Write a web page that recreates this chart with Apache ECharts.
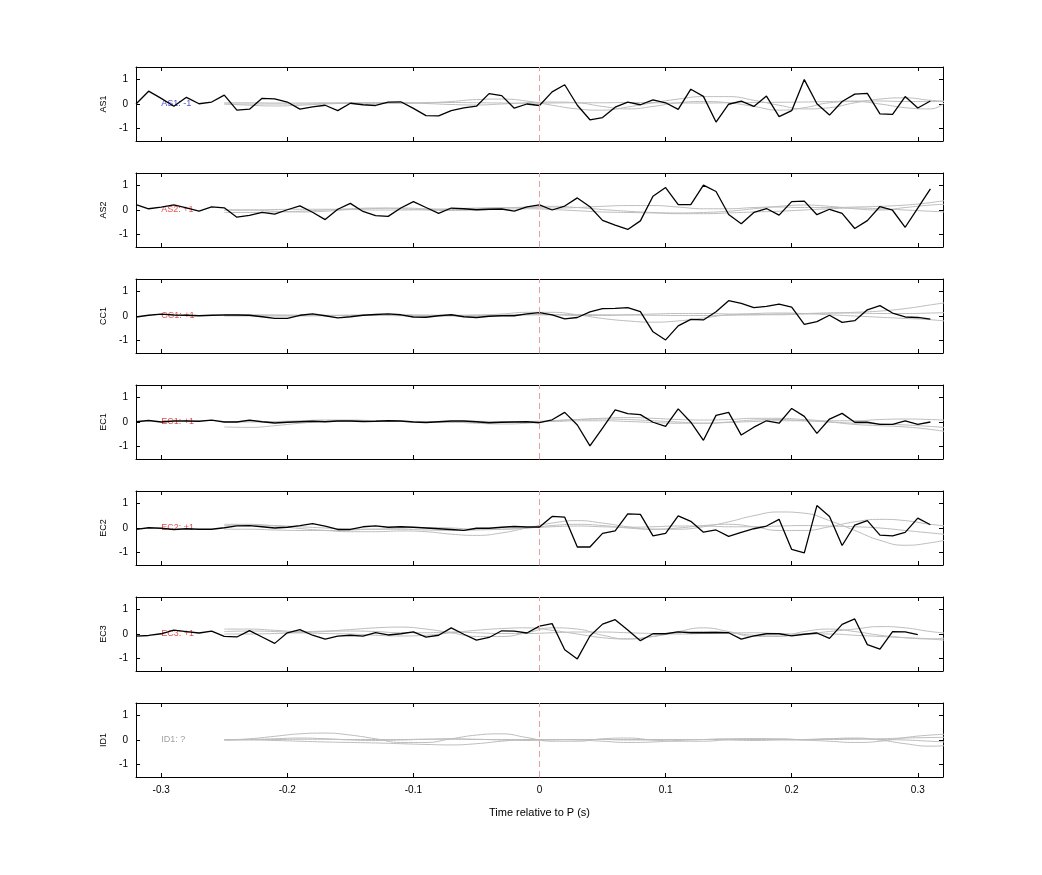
<!DOCTYPE html>
<html>
<head>
<meta charset="utf-8">
<script src="https://cdn.jsdelivr.net/npm/echarts@6/dist/echarts.min.js"></script>
<style>html,body{margin:0;background:#fff}#chart{width:1042px;height:875px}</style>
</head>
<body>
<div id="chart"></div>
<script>
const stations = ['AS1', 'AS2', 'CC1', 'EC1', 'EC2', 'EC3', 'ID1']
const polarity = ['AS1: -1', 'AS2: +1', 'CC1: +1', 'EC1: +1', 'EC2: +1', 'EC3: +1', 'ID1: ?']
const labelColors = ['#2222cc', '#e02020', '#e02020', '#e02020', '#e02020', '#e02020', '#888888']
const xTicks = [-0.3, -0.2, -0.1, 0, 0.1, 0.2, 0.3]
const yTicks = [-1, 0, 1]

// black traces, every 0.01 s from -0.32
const as1 = [0,0.52,0.23,-0.09,0.27,0.01,0.08,0.36,-0.25,-0.21,0.23,0.21,0.08,-0.21,-0.12,-0.05,-0.27,0.03,-0.03,-0.06,0.08,0.09,-0.18,-0.47,-0.48,-0.27,-0.16,-0.09,0.42,0.34,-0.17,0,-0.06,0.49,0.78,-0.05,-0.64,-0.55,-0.13,0.08,-0.03,0.17,0.05,-0.22,0.6,0.31,-0.73,-0.01,0.12,-0.1,0.32,-0.51,-0.27,0.99,0.01,-0.45,0.1,0.4,0.43,-0.4,-0.42,0.3,-0.16,0.12]
const as2 = [0.22,0.05,0.12,0.21,0.09,-0.05,0.13,0.09,-0.29,-0.22,-0.1,-0.17,0.01,0.17,-0.09,-0.39,0.03,0.27,-0.06,-0.23,-0.26,0.08,0.34,0.1,-0.14,0.08,0.05,0.01,0.03,0.04,-0.05,0.13,0.21,0,0.16,0.49,0.13,-0.42,-0.61,-0.79,-0.44,0.56,0.91,0.22,0.22,1.01,0.75,-0.18,-0.56,-0.1,0.06,-0.21,0.34,0.36,-0.19,0.03,-0.14,-0.75,-0.43,0.14,-0.01,-0.7,0.08,0.86]
const cc1 = [-0.04,0.03,0.08,0.04,0.03,0.01,0.03,0.04,0.04,0.03,-0.03,-0.1,-0.1,0.03,0.09,0.01,-0.08,-0.03,0.03,0.06,0.09,0.05,-0.04,-0.05,0.01,0.05,-0.03,-0.06,-0.01,0.01,0.01,0.09,0.14,0.05,-0.12,-0.06,0.17,0.3,0.31,0.34,0.18,-0.64,-0.97,-0.4,-0.14,-0.16,0.17,0.62,0.51,0.34,0.39,0.48,0.36,-0.34,-0.23,0.03,-0.26,-0.19,0.25,0.42,0.12,-0.04,-0.06,-0.13]
const ec1 = [0.01,0.06,0,0.04,0.04,0.03,0.08,0,0,0.08,0.01,-0.04,-0.01,0.01,0.03,0.01,0.04,0.04,0.02,0.03,0.05,0.04,0,-0.02,0.01,0.04,0.04,0.01,-0.03,-0.01,0,0.01,-0.03,0.09,0.39,-0.12,-0.97,-0.25,0.49,0.34,0.3,-0.01,-0.18,0.53,-0.01,-0.74,0.27,0.39,-0.53,-0.21,0.05,-0.05,0.55,0.23,-0.46,0.12,0.35,-0.01,-0.01,-0.1,-0.1,0.05,-0.1,0]
const ec2 = [-0.06,0.01,-0.01,-0.06,-0.03,-0.05,-0.05,0.01,0.09,0.1,0.05,0,0.03,0.1,0.18,0.08,-0.06,-0.06,0.05,0.09,0.03,0.05,0.03,0,-0.03,-0.06,-0.1,-0.01,-0.01,0.03,0.06,0.04,0.04,0.47,0.44,-0.77,-0.77,-0.22,-0.12,0.57,0.55,-0.32,-0.22,0.49,0.27,-0.17,-0.08,-0.34,-0.18,-0.03,0.08,0.35,-0.87,-1.01,0.91,0.47,-0.71,0.12,0.3,-0.29,-0.32,-0.18,0.4,0.13]
const ec3 = [-0.09,-0.06,0.01,0.16,0.1,0.04,0.12,-0.1,-0.12,0.14,-0.12,-0.38,0.05,0.18,-0.05,-0.21,-0.09,-0.05,-0.09,0.06,-0.04,0.01,0.09,-0.13,-0.05,0.25,-0.01,-0.25,-0.14,0.13,0.12,0.04,0.32,0.42,-0.64,-1.01,-0.08,0.4,0.58,0.16,-0.27,0.01,0.01,0.09,0.05,0.05,0.06,0.05,-0.21,-0.08,0.01,0.01,-0.08,-0.01,0.04,-0.18,0.39,0.61,-0.43,-0.61,0.1,0.09,-0.03]
const blackTraces = [as1, as2, cc1, ec1, ec2, ec3, null]

// gray synthetic traces, every 0.02 s from -0.25
const grayTimes = [-0.25,-0.23,-0.21,-0.19,-0.17,-0.15,-0.13,-0.11,-0.09,-0.07,-0.05,-0.03,-0.01,0.01,0.03,0.05,0.07,0.09,0.11,0.13,0.15,0.17,0.19,0.21,0.23,0.25,0.27,0.29,0.31,0.33]
const grayAS1 = [
  [0,0,0,0,0.02,0.03,0.03,0.03,0.05,0.1,0.18,0.2,0.12,-0.05,-0.2,-0.25,-0.12,0.05,0.2,0.3,0.3,0.15,-0.05,-0.2,-0.15,0.05,0.2,0.25,0.15,0.1],
  [0,-0.05,-0.08,-0.05,0,0.03,0.05,0.05,0.02,-0.02,-0.04,0,0.05,0.08,0.05,-0.1,-0.2,-0.1,0.05,0.1,0.05,-0.1,-0.25,-0.15,0.05,0.1,0,-0.15,-0.2,0.6],
  [0.05,0.05,0.04,0.04,0.05,0.05,0.05,0.04,0.05,0.06,0.05,0.04,0.03,0.04,0.05,0.05,0.06,0.05,0.04,0.04,0.05,0.06,0.07,0.08,0.1,0.12,0.12,0.1,0.1,0.1]
]
const grayAS2 = [
  [0,0,-0.05,-0.08,-0.05,0.02,0.06,0.08,0.05,0.02,0.05,0.08,0.12,0.15,0.1,0.02,-0.05,-0.1,-0.12,-0.1,-0.05,0.05,0.15,0.2,0.15,0.05,0,0.1,0.2,0.25],
  [-0.1,-0.1,-0.08,-0.05,0,0.05,0.08,0.05,0,-0.02,0,0.03,0.05,0.02,-0.03,-0.08,-0.1,-0.12,-0.15,-0.15,-0.12,-0.08,-0.05,0,0.05,0.08,0.05,0,-0.05,-0.1],
  [0,0,0.02,0.03,0.03,0.02,0,0,0.02,0.05,0.08,0.1,0.1,0.08,0.1,0.15,0.18,0.18,0.12,0.05,0.05,0.1,0.12,0.1,0.1,0.12,0.15,0.2,0.3,0.45]
]
const grayCC1 = [
  [0.05,0.05,0.04,0.03,0.03,0.04,0.05,0.05,0.04,0.03,0.04,0.08,0.15,0.15,0.05,-0.1,-0.2,-0.25,-0.2,-0.08,0.05,0.1,0.12,0.1,0.05,0,-0.05,-0.1,-0.15,-0.25],
  [0,0,0,0,0.01,0.02,0.02,0.01,0,0,0.01,0.02,0.05,0.05,0.02,0.02,0.05,0.08,0.1,0.1,0.08,0.05,0.05,0.08,0.12,0.15,0.2,0.3,0.45,0.6],
  [0.02,0.02,0.03,0.03,0.02,0.02,0.03,0.03,0.02,0.02,0.03,0.04,0.05,0.05,0.06,0.05,0.04,0.03,0.02,0.02,0.03,0.05,0.08,0.1,0.12,0.12,0.1,0.1,0.12,0.15]
]
const grayEC1 = [
  [-0.2,-0.22,-0.15,-0.05,0.02,0.05,0.05,0.03,0.02,0,-0.05,-0.08,-0.05,0.05,0.1,0.12,0.1,0.05,0,-0.05,0,0.08,0.1,0.05,0,-0.1,-0.15,-0.2,-0.3,-0.45],
  [0,0,0.02,0.05,0.08,0.08,0.05,0.02,0,-0.02,-0.02,0,0.02,0.05,0.1,0.15,0.18,0.15,0.1,0.08,0.1,0.15,0.15,0.1,0.05,0.05,0.1,0.12,0.1,0.05],
  [0.02,0.02,0.02,0.02,0.03,0.03,0.02,0.02,0.02,0.02,0.03,0.02,0.02,0.02,0.05,0.05,0.02,-0.02,-0.05,-0.05,-0.02,0.02,0.05,0.05,0,-0.05,-0.08,-0.12,-0.18,-0.25]
]
const grayEC2 = [
  [0.15,0.15,0.08,-0.02,-0.1,-0.15,-0.15,-0.12,-0.15,-0.25,-0.3,-0.2,0,0.2,0.3,0.2,0.05,-0.05,-0.05,0.05,0.25,0.5,0.65,0.6,0.3,-0.1,-0.5,-0.7,-0.6,-0.4],
  [0.1,0.12,0.1,0.05,0,-0.05,-0.05,0,0.02,0,-0.05,-0.05,0,0.1,0.15,0.1,0,-0.05,0,0.1,0.15,0.05,-0.1,-0.1,0.05,0.25,0.35,0.3,0.15,0.05],
  [-0.05,-0.05,-0.08,-0.1,-0.1,-0.08,-0.05,-0.05,-0.08,-0.1,-0.08,-0.05,0,0.05,0.08,0.05,0.03,0.05,0.08,0.08,0.05,0.05,0.08,0.1,0.08,0.05,0,-0.1,-0.2,-0.3]
]
const grayEC3 = [
  [0.2,0.2,0.15,0.1,0.12,0.18,0.25,0.28,0.2,0.05,-0.1,-0.1,0.05,0.25,0.2,-0.05,-0.2,-0.1,0.1,0.25,0.1,-0.1,-0.1,0.1,0.2,0.1,-0.05,-0.15,-0.2,-0.1],
  [0.1,0.12,0.1,0.05,0.02,0,-0.05,-0.08,-0.05,0.05,0.15,0.22,0.25,0.15,0,-0.15,-0.2,-0.1,0.05,0.1,0.05,-0.05,-0.08,0,0.1,0.2,0.3,0.25,0.1,0],
  [0,0,0.02,0.05,0.1,0.12,0.1,0.05,0.05,0.08,0.05,0.02,0.02,0.05,0.08,0.08,0.05,0.02,0,0.02,0.05,0.05,0.02,0,0,-0.05,-0.1,-0.15,-0.2,-0.3]
]
const grayID1 = [
  [0,0.05,0.15,0.25,0.28,0.2,0.05,-0.1,-0.1,0.05,0.2,0.25,0.1,-0.05,-0.05,0.05,0.08,0,-0.05,-0.05,0.02,0.05,0.05,0,-0.05,-0.1,-0.05,0.1,0.2,0.25],
  [0,0,-0.02,-0.05,-0.08,-0.1,-0.12,-0.15,-0.18,-0.2,-0.15,-0.05,0.02,0.02,0,-0.05,-0.1,-0.08,-0.02,0.02,0.05,0.05,0.02,0,0.05,0.08,0,-0.15,-0.25,-0.2],
  [0,0.02,0.05,0.08,0.05,0,-0.02,0,0.03,0.05,0.03,0,-0.02,0,0.02,0.02,0,0,0.02,0.02,0,-0.02,0,0.02,0.05,0.05,0.02,0,-0.05,-0.1],
  [0.02,0.02,0.02,0.03,0.03,0.02,0.02,0.02,0.03,0.03,0.02,0.02,0.02,0.02,0.02,0.02,0.02,0.02,0.02,0.02,0.02,0.02,0.02,0.02,0.02,0.03,0.05,0.08,0.1,0.12]
]
const grayTraces = [grayAS1, grayAS2, grayCC1, grayEC1, grayEC2, grayEC3, grayID1]

const blackTimes = as1.map((v, i) => Math.round((-0.32 + i * 0.01) * 100) / 100)

const FONT = 'Liberation Sans'
const grids = [], xAxes = [], yAxes = [], series = []

stations.forEach((name, k) => {
    const top = 67 + k * 106
    grids.push({ left: 136, right: 99, top: top, height: 74 })
    const last = k === stations.length - 1
    const xBase = {
        gridIndex: k, type: 'value', min: -0.32, max: 0.32,
        axisLine: { onZero: false, lineStyle: { color: '#000', width: 1 } },
        axisTick: { inside: true, length: 4, customValues: xTicks, lineStyle: { color: '#000' } },
        splitLine: { show: false },
        axisLabel: { show: false }
    }
    xAxes.push(Object.assign({}, xBase, {
        position: 'bottom',
        axisLabel: { show: last, customValues: xTicks, color: '#000', fontFamily: FONT, fontSize: 10, margin: 8 },
        name: last ? 'Time relative to P (s)' : '', nameLocation: 'middle', nameGap: 30,
        nameTextStyle: { color: '#000', fontFamily: FONT, fontSize: 11 }
    }))
    xAxes.push(Object.assign({}, xBase, { position: 'top' }))
    const yBase = {
        gridIndex: k, type: 'value', min: -1.5, max: 1.5,
        axisLine: { show: true, onZero: false, lineStyle: { color: '#000', width: 1 } },
        axisTick: { inside: true, length: 4, customValues: yTicks, lineStyle: { color: '#000' } },
        splitLine: { show: false },
        axisLabel: { show: false }
    }
    yAxes.push(Object.assign({}, yBase, {
        position: 'left',
        axisLabel: { show: true, customValues: yTicks, color: '#000', fontFamily: FONT, fontSize: 10, margin: 8 },
        name: name, nameLocation: 'middle', nameGap: 26, nameRotate: 90,
        nameTextStyle: { color: '#000', fontFamily: FONT, fontSize: 9 }
    }))
    yAxes.push(Object.assign({}, yBase, { position: 'right' }))

    grayTraces[k].forEach(vals => {
        series.push({
            type: 'line', xAxisIndex: 2 * k, yAxisIndex: 2 * k, smooth: 0.5, symbol: 'none',
            lineStyle: { color: '#bdbdbd', width: 1 }, clip: true, silent: true,
            data: grayTimes.map((t, i) => [t, vals[i]])
        })
    })
    const blk = blackTraces[k]
    series.push({
        type: 'line', xAxisIndex: 2 * k, yAxisIndex: 2 * k, symbol: 'none', clip: true,
        lineStyle: { color: '#000', width: 1.3 },
        data: blk ? blackTimes.slice(0, blk.length).map((t, i) => [t, blk[i]]) : [],
        markLine: {
            symbol: 'none', silent: true, label: { show: false },
            lineStyle: { color: '#e8a0a0', type: [6, 4], width: 1 },
            data: [{ xAxis: 0 }]
        }
    })
    series.push({
        type: 'scatter', xAxisIndex: 2 * k, yAxisIndex: 2 * k, symbolSize: 0,
        data: [[-0.3, 0]],
        label: { show: true, position: 'right', distance: 0, formatter: polarity[k], color: labelColors[k], fontFamily: FONT, fontSize: 9 }
    })
})

const myChart = echarts.init(document.querySelector('#chart'))
myChart.setOption({
    animation: false,
    backgroundColor: '#fff',
    grid: grids,
    xAxis: xAxes,
    yAxis: yAxes,
    series: series
})
</script>
</body>
</html>
